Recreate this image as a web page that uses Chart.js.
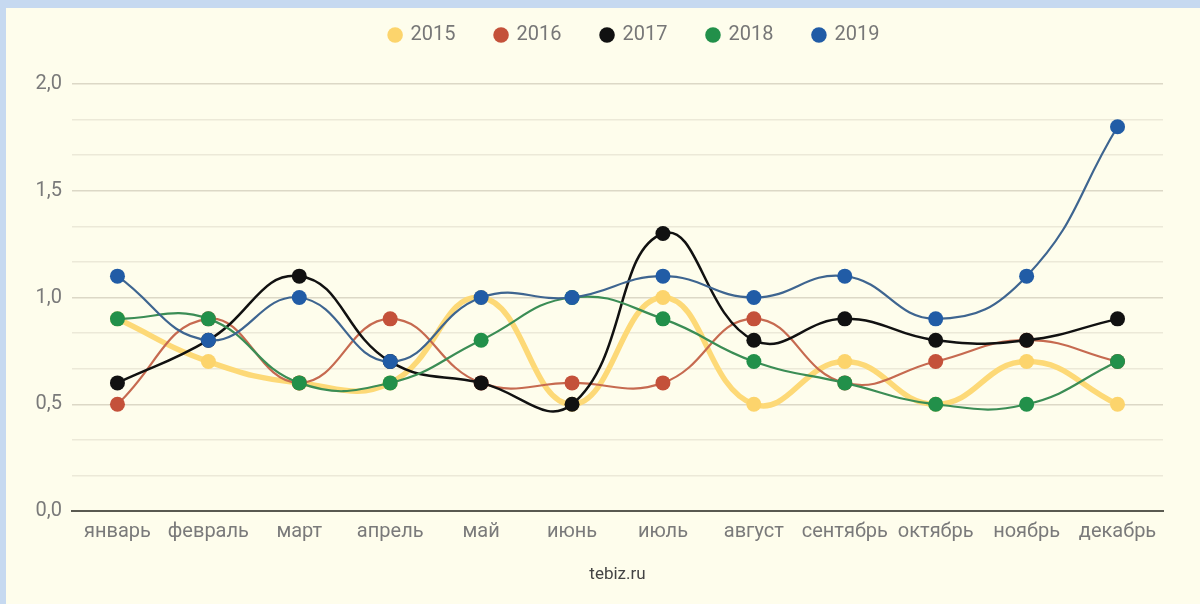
<!DOCTYPE html>
<html>
<head>
<meta charset="utf-8">
<script src="https://cdn.jsdelivr.net/npm/chart.js@4/dist/chart.umd.min.js"></script>
<style>
    body { margin: 0; background: #c6d9f0; }
    #wrap { position: absolute; left: 6px; top: 8px; width: 1194px; height: 596px; background: #fefdec; }
</style>
</head>
<body>
<div id="wrap"><canvas id="chart"></canvas></div>
<script>
const months = ['январь', 'февраль', 'март', 'апрель', 'май', 'июнь', 'июль', 'август', 'сентябрь', 'октябрь', 'ноябрь', 'декабрь'];
const years = ['2015', '2016', '2017', '2018', '2019'];

const y2015 = [0.9, 0.7, 0.6, 0.6, 1.0, 0.5, 1.0, 0.5, 0.7, 0.5, 0.7, 0.5];
const y2016 = [0.5, 0.9, 0.6, 0.9, 0.6, 0.6, 0.6, 0.9, 0.6, 0.7, 0.8, 0.7];
const y2017 = [0.6, 0.8, 1.1, 0.7, 0.6, 0.5, 1.3, 0.8, 0.9, 0.8, 0.8, 0.9];
const y2018 = [0.9, 0.9, 0.6, 0.6, 0.8, 1.0, 0.9, 0.7, 0.6, 0.5, 0.5, 0.7];
const y2019 = [1.1, 0.8, 1.0, 0.7, 1.0, 1.0, 1.1, 1.0, 1.1, 0.9, 1.1, 1.8];

const yTicks = [0, 0.5, 1, 1.5, 2];

const series = [y2015, y2016, y2017, y2018, y2019];
const dotColors = ['#fcd46c', '#c4513a', '#111111', '#22904a', '#215ca6'];
const lineColors = ['#fdd977', '#c66a50', '#111111', '#3b8d55', '#3e6590'];
const widths = [5.5, 2.2, 2.5, 2.2, 2.2];

// legend: fixed height and shifted a bit right, like the original
const legendPlace = {
    id: 'legendPlace',
    beforeInit(chart) {
        const fit = chart.legend.fit;
        chart.legend.fit = function () {
            fit.call(this);
            this.height = 99;
        };
    },
    afterLayout(chart) {
        chart.legend.left += 50;
        chart.legend.right += 50;
    }
};

const ctx = document.getElementById('chart').getContext('2d');

const chart = new Chart(ctx, {
    type: 'line',
    data: {
        labels: months,
        datasets: years.map((y, i) => ({
            label: y,
            data: series[i],
            borderColor: lineColors[i],
            backgroundColor: dotColors[i],
            pointBackgroundColor: dotColors[i],
            pointBorderWidth: 0,
            pointRadius: 7.5,
            borderWidth: widths[i],
            tension: 0.45,
            order: 5 - i
        }))
    },
    plugins: [legendPlace],
    options: {
        responsive: true,
        maintainAspectRatio: false,
        animation: false,
        layout: { padding: { top: -23, right: 37, left: 0, bottom: 0 } },
        plugins: {
            tooltip: { enabled: false },
            legend: {
                position: 'top',
                labels: {
                    usePointStyle: true,
                    pointStyle: 'circle',
                    boxWidth: 11,
                    boxHeight: 11,
                    padding: 40,
                    color: '#777',
                    font: { family: 'Roboto', size: 20 },
                    sort: (a, b) => a.datasetIndex - b.datasetIndex
                }
            }
        },
        scales: {
            x: {
                offset: true,
                grid: { display: false },
                border: { color: '#5a5a50', width: 2 },
                ticks: { color: '#7a7a7a', padding: 1, font: { family: 'Roboto', size: 20 }, maxRotation: 0, autoSkip: false },
                title: { display: true, text: 'tebiz.ru', color: '#444', font: { family: 'Roboto', size: 17 }, padding: { top: 0, bottom: 19 } },
                afterFit: s => { s.height = 93; }
            },
            y: {
                min: 0,
                max: 2,
                border: { display: false },
                grid: {
                    drawTicks: false,
                    color: c => {
                        const v = c.tick.value;
                        if (Math.abs(v) < 1e-6) return '#5a5a50';
                        return yTicks.some(t => Math.abs(t - v) < 1e-6) ? '#dcd8c6' : '#ece9d8';
                    },
                    lineWidth: c => Math.abs(c.tick.value) < 1e-6 ? 2 : 1.5
                },
                ticks: {
                    stepSize: 1 / 6,
                    padding: 10,
                    color: '#7a7a7a',
                    font: { family: 'Roboto', size: 20 },
                    callback: v => yTicks.some(t => Math.abs(t - v) < 1e-6) ? v.toFixed(1).replace('.', ',') : ''
                },
                afterFit: s => { s.width = 66; }
            }
        }
    }
});
</script>
</body>
</html>
